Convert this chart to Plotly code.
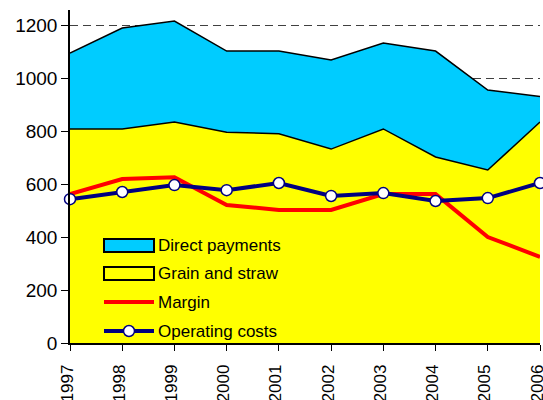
import plotly.graph_objects as go

years = [1997, 1998, 1999, 2000, 2001, 2002, 2003, 2004, 2005, 2006]
year_labels = [str(y) for y in years]
grain_and_straw = [808, 808, 834, 796, 790, 732, 808, 702, 653, 834]
direct_payments = [286, 381, 381, 306, 312, 336, 324, 400, 302, 96]
margin = [562, 619, 626, 521, 502, 502, 562, 562, 400, 325]
operating_costs = [543, 570, 596, 577, 604, 555, 566, 536, 547, 604]
y_ticks = [0, 200, 400, 600, 800, 1000, 1200]
legend_names = ["Direct payments", "Grain and straw", "Margin", "Operating costs"]

font_main = "Liberation Sans, Arial"
W, H = 543, 400
ML, MR, MT, MB = 70, 3, 10, 57
PW, PH = W - ML - MR, H - MT - MB

def px(X):
    return (X - ML) / PW

def py(Y):
    return (H - MB - Y) / PH

fig = go.Figure()
fig.add_trace(go.Scatter(
    x=years, y=grain_and_straw, name=legend_names[1], stackgroup="a",
    mode="lines", line=dict(color="black", width=1.5), fillcolor="#FFFF00"))
fig.add_trace(go.Scatter(
    x=years, y=direct_payments, name=legend_names[0], stackgroup="a",
    mode="lines", line=dict(color="black", width=1.5), fillcolor="#00CCFF"))
fig.add_trace(go.Scatter(
    x=years, y=margin, name=legend_names[2], mode="lines",
    line=dict(color="#FF0000", width=4), cliponaxis=False))
fig.add_trace(go.Scatter(
    x=years, y=operating_costs, name=legend_names[3], mode="lines+markers",
    line=dict(color="#000080", width=4), cliponaxis=False,
    marker=dict(symbol="circle", size=11, color="white",
                line=dict(color="#000080", width=1.5))))

# manual legend (Excel style: wide boxes / lines)
item_y = [245.5, 273.5, 302, 331]
x0, x1 = 104, 154
shapes = []
for i, fc in enumerate(["#00CCFF", "#FFFF00"]):
    shapes.append(dict(type="rect", xref="paper", yref="paper",
                       x0=px(x0), x1=px(x1), y0=py(item_y[i] + 6.5), y1=py(item_y[i] - 6.5),
                       fillcolor=fc, line=dict(color="black", width=2), layer="above"))
shapes.append(dict(type="line", xref="paper", yref="paper",
                   x0=px(x0), x1=px(x1), y0=py(item_y[2]), y1=py(item_y[2]),
                   line=dict(color="#FF0000", width=4), layer="above"))
shapes.append(dict(type="line", xref="paper", yref="paper",
                   x0=px(x0), x1=px(x1), y0=py(item_y[3]), y1=py(item_y[3]),
                   line=dict(color="#000080", width=4), layer="above"))
cx = (x0 + x1) / 2
shapes.append(dict(type="circle", xref="paper", yref="paper",
                   x0=px(cx - 5.5), x1=px(cx + 5.5), y0=py(item_y[3] + 5.5), y1=py(item_y[3] - 5.5),
                   fillcolor="white", line=dict(color="#000080", width=1.5), layer="above"))
annotations = []
for name, yy in zip(legend_names, item_y):
    annotations.append(dict(text=name, xref="paper", yref="paper", x=px(156), y=py(yy),
                            xanchor="left", yanchor="middle", showarrow=False,
                            font=dict(family=font_main, size=17, color="black")))

annotations.append(dict(
    text="<b>Composition of output and direct payments, SEK/ha, spring barley, 1997-2006</b>",
    xref="paper", yref="paper", x=0.62, y=1, xanchor="center", yanchor="bottom",
    yshift=6.5, showarrow=False, font=dict(size=17, color="black", family=font_main)))

fig.update_layout(
    width=W, height=H,
    margin=dict(l=ML, r=MR, t=MT, b=MB, autoexpand=False),
    paper_bgcolor="white", plot_bgcolor="white",
    font=dict(family=font_main, size=17, color="black"),
    showlegend=False,
    shapes=shapes, annotations=annotations,
    xaxis=dict(range=[1997, 2006], tickvals=years, ticktext=year_labels,
               tickangle=-90, ticks="outside", ticklen=6, tickcolor="black",
               showline=True, linecolor="black", linewidth=1.5,
               showgrid=False, zeroline=False, ticklabelstandoff=7,
               ticklabelshift=-3,
               ticklabeloverflow="allow", automargin=False,
               tickfont=dict(family=font_main, size=17)),
    yaxis=dict(range=[0, 1257], tickvals=y_ticks, ticks="outside", ticklen=7,
               tickcolor="black", showline=True, linecolor="black", linewidth=1.5,
               showgrid=True, gridcolor="#404040", griddash="8px,5px", gridwidth=1,
               zeroline=False, automargin=False,
               tickfont=dict(family=font_main, size=19)),
)

fig.write_html("out.html", config={"displayModeBar": False},
               post_script="document.body.style.margin='0';document.body.style.overflow='hidden';")
